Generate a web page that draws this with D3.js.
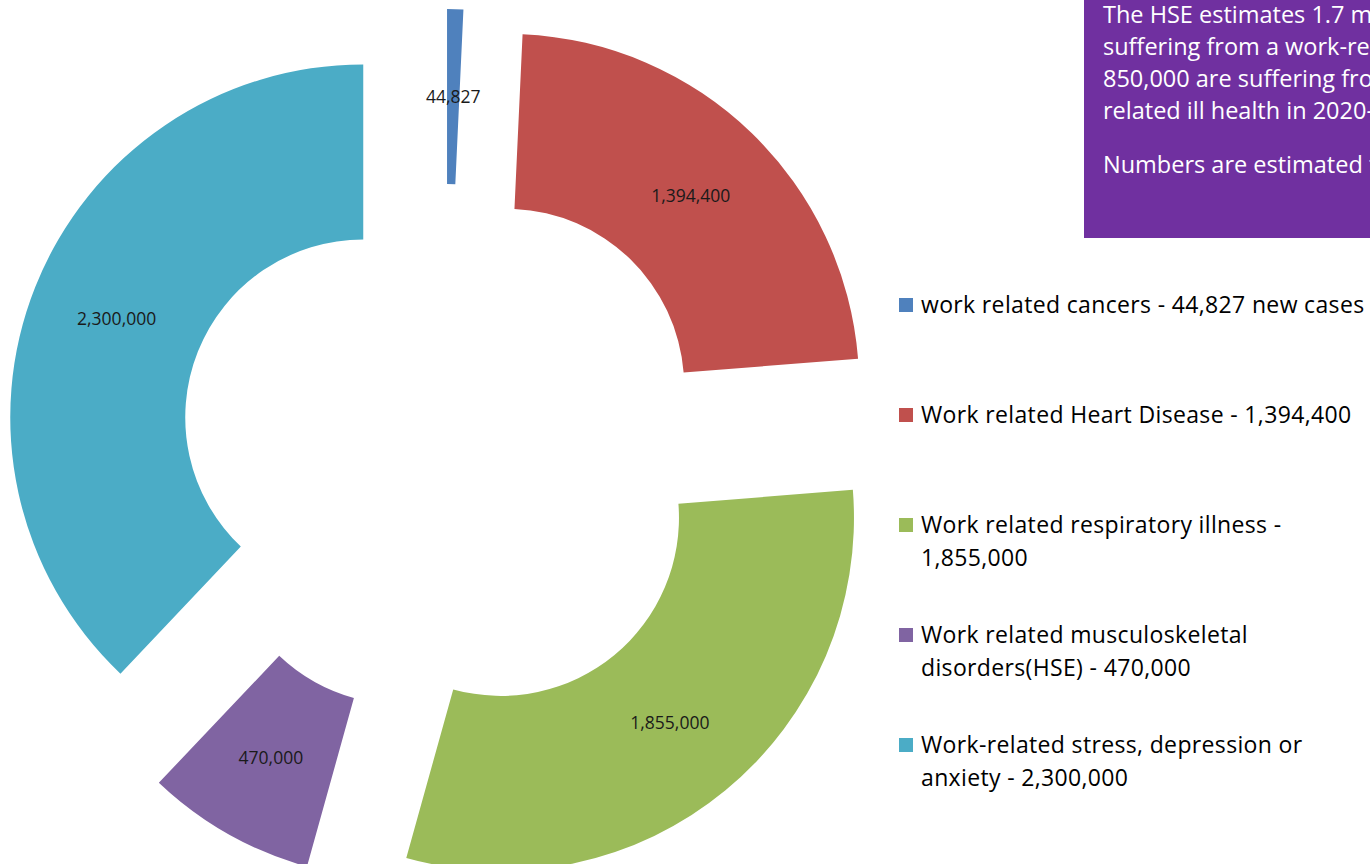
<!DOCTYPE html>
<html>
<head>
<meta charset="utf-8">
<script src="https://cdn.jsdelivr.net/npm/d3@7"></script>
<style>
  body { margin: 0; background: #fff; }
  svg { display: block; }
</style>
</head>
<body>
<svg width="1370" height="864"></svg>
<script>
const svg = d3.select('svg');

// chart data
const categories = [
    'work related cancers - 44,827 new cases',
    'Work related Heart Disease - 1,394,400',
    'Work related respiratory illness - 1,855,000',
    'Work related musculoskeletal disorders(HSE) - 470,000',
    'Work-related stress, depression or anxiety - 2,300,000'
];
const legendLines = [
    ['work related cancers - 44,827 new cases'],
    ['Work related Heart Disease - 1,394,400'],
    ['Work related respiratory illness -', '1,855,000'],
    ['Work related musculoskeletal', 'disorders(HSE) - 470,000'],
    ['Work-related stress, depression or', 'anxiety - 2,300,000']
];
const values = [44827, 1394400, 1855000, 470000, 2300000];
const colors = ['#4F81BD', '#C0504D', '#9BBB59', '#8064A2', '#4BACC6'];

const noteLines = [
    'The HSE estimates 1.7 million workers are',
    'suffering from a work-related illness and',
    '850,000 are suffering from work-',
    'related ill health in 2020-21.'
];
const noteLines2 = ['Numbers are estimated to be higher.'];

const data = values.map((v, i) => ({name: categories[i], value: v, color: colors[i]}));

const cx = 445;
const cy = 450;
const outerR = 353;
const innerR = 178;
const explode = 88;

const pie = d3.pie()
    .value(d => d.value)
    .sort(null);

const arc = d3.arc()
    .innerRadius(innerR)
    .outerRadius(outerR);

const labelArc = d3.arc()
    .innerRadius((innerR + outerR) / 2)
    .outerRadius((innerR + outerR) / 2);

const fmt = d3.format(',');

const slices = svg.append('g')
    .attr('transform', `translate(${cx}, ${cy})`)
    .selectAll('g')
    .data(pie(data))
    .join('g')
    .attr('transform', d => {
        const a = (d.startAngle + d.endAngle) / 2;
        return `translate(${explode * Math.sin(a)}, ${-explode * Math.cos(a)})`;
    });

slices.append('path')
    .attr('d', arc)
    .attr('fill', d => d.data.color);

slices.append('text')
    .attr('transform', d => `translate(${labelArc.centroid(d)})`)
    .attr('text-anchor', 'middle')
    .attr('dy', '0.35em')
    .style('font-family', '"Open Sans", sans-serif')
    .style('font-size', '17.5px')
    .attr('fill', '#1a1a1a')
    .text(d => fmt(d.data.value));

// legend
const legend = svg.append('g')
    .attr('transform', 'translate(899, 313)');

const item = legend.selectAll('g')
    .data(legendLines)
    .join('g')
    .attr('transform', (d, i) => `translate(0, ${i * 110})`);

item.append('rect')
    .attr('x', 0)
    .attr('y', -15)
    .attr('width', 14)
    .attr('height', 14)
    .attr('fill', (d, i) => colors[i]);

item.append('text')
    .style('font-family', '"Open Sans", sans-serif')
    .style('font-size', '23px')
    .style('letter-spacing', '0.35px')
    .attr('fill', '#000')
    .selectAll('tspan')
    .data(d => d)
    .join('tspan')
    .attr('x', 22)
    .attr('y', (d, i) => i * 33)
    .text(d => d);

// note box
svg.append('rect')
    .attr('x', 1084)
    .attr('y', 0)
    .attr('width', 290)
    .attr('height', 238)
    .attr('fill', '#7030A0');

const note = svg.append('text')
    .style('font-family', '"Open Sans", sans-serif')
    .style('font-size', '23.5px')
    .attr('fill', '#fff');

note.selectAll('tspan.a')
    .data(noteLines)
    .join('tspan')
    .attr('class', 'a')
    .attr('x', 1103)
    .attr('y', (d, i) => 23 + i * 32)
    .text(d => d);

note.selectAll('tspan.b')
    .data(noteLines2)
    .join('tspan')
    .attr('class', 'b')
    .attr('x', 1103)
    .attr('y', 173)
    .text(d => d);
</script>
</body>
</html>
